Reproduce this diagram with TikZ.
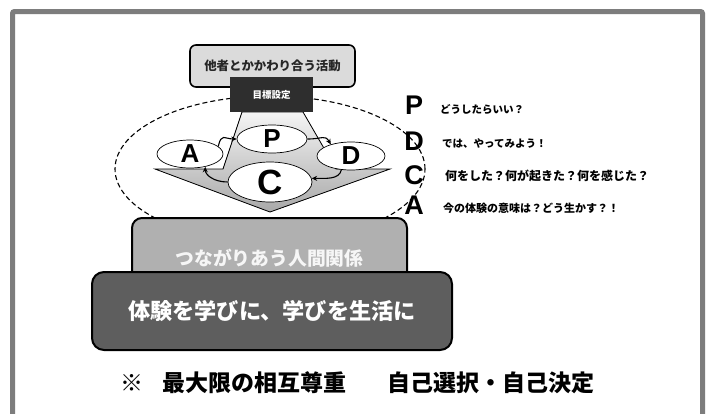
\documentclass[tikz,border=0pt]{standalone}
\usepackage{fontspec}
\newfontfamily\jp{Noto Sans CJK JP}
\newfontfamily\lat{Liberation Sans}
\usetikzlibrary{shapes.geometric,arrows.meta}
\newcommand\fsz[1]{\fontsize{#1}{#1}\selectfont}
\begin{document}
\begin{tikzpicture}[x=1pt,y=-1pt,
  framel/.style={draw=gray!98!black, line width=5pt, rounded corners=2pt},
  pel/.style={ellipse, draw, fill=white, line width=0.7pt, inner sep=0pt},
  pletter/.style={font=\lat\bfseries\fsz{26}},
  cyc/.style={-{Stealth[length=5.5pt,width=5pt]}, line width=1.1pt},
  pdca/.style={font=\lat\bfseries\fsz{27}, inner sep=0pt},
  pdtext/.style={anchor=west, inner sep=0pt, font=\jp\bfseries},
  rbox/.style={draw=black, line width=2pt, rounded corners=10pt, inner sep=0pt},
  btext/.style={font=\jp\bfseries\fsz{23}, inner sep=0pt}
]
\useasboundingbox (0,0) rectangle (712,413);
\fill[white] (0,0) rectangle (712,413);
\draw[framel] (12.5,416) -- (12.5,11.5) -- (702.5,11.5) -- (702.5,416);

% dashed cycle ellipse
\node[ellipse, draw, dashed, dash pattern=on 5pt off 3pt, line width=1.1pt,
      minimum width=310pt, minimum height=146pt, inner sep=0pt] (ring) at (270,169) {};

% funnel + triangle
\filldraw[draw=black, line width=0.8pt, top color=gray!8, bottom color=gray!68]
  (155,169) -- (223,169) -- (242,112) -- (303,112) -- (336,169) -- (390,169) -- (270,212) -- cycle;

% top boxes
\node[draw=black, line width=1.6pt, fill=gray!28, rounded corners=6pt,
      minimum width=165pt, minimum height=42pt, inner sep=0pt,
      font=\jp\bfseries\fsz{12.4}, text=black!85] (act) at (272.5,66) {他者とかかわり合う活動};
\node[fill=black!82, minimum width=83pt, minimum height=35pt, inner sep=0pt,
      font=\jp\bfseries\fsz{9.5}, text=white] (goal) at (271.5,94.5) {\raisebox{-2.5pt}{目標設定}};

% cycle ellipses
\node[pel, minimum width=70pt, minimum height=28pt] (P) at (272,139) {};
\node[pel, minimum width=66pt, minimum height=28pt] (A) at (190,154) {};
\node[pel, minimum width=68pt, minimum height=28pt] (D) at (351,156) {};
\node[pel, minimum width=84pt, minimum height=40pt] (C) at (270,182) {};
\node[pletter] (Pl) at (P) {P};
\node[pletter] (Al) at (A) {A};
\node[pletter] (Dl) at (D) {D};
\node[font=\lat\bfseries\fsz{35}] (Cl) at (C) {C};

% cycle arrows
\draw[cyc] (A.15) .. controls +(3,-14) and +(-12,0) .. (P.west);
\draw[cyc] (P.east) .. controls +(16,0) and +(-6,-10) .. (D.150);
\draw[cyc] (D.235) .. controls +(-2,10) and +(14,0) .. (C.5);
\draw[cyc] (C.west) .. controls +(-14,0) and +(0,8) .. (A.-40);

% PDCA column
\node[pdca] (pp) at (414,105) {P};
\node[pdca] (pd) at (414,141) {D};
\node[pdca] (pc) at (414,175) {C};
\node[pdca] (pa) at (414,205) {A};
\node[pdtext, font=\jp\bfseries\fsz{10.5}] (tp) at (440,110) {どうしたらいい？};
\node[pdtext, font=\jp\bfseries\fsz{10.5}] (td) at (442,143) {では、やってみよう！};
\node[pdtext, font=\jp\bfseries\fsz{12}] (tc) at (445,176) {何をした？何が起きた？何を感じた？};
\node[pdtext, font=\jp\bfseries\fsz{11}] (ta) at (443,208) {今の体験の意味は？どう生かす？！};

% base boxes
\node[rbox, fill=gray!62, minimum width=275pt, minimum height=80pt,
      font=\jp\bfseries\fsz{18.8}, text=white!93!gray] (rel) at (269.5,258) {つながりあう人間関係};
\node[rbox, fill=black!63, minimum width=360pt, minimum height=78pt, rounded corners=12pt,
      font=\jp\bfseries\fsz{22.2}, text=white] (learn) at (272,311) {体験を学びに、学びを生活に};

% bottom line
\node[btext] (mark) at (132,383) {※};
\node[btext, anchor=west] (resp) at (162,383) {最大限の相互尊重};
\node[btext, anchor=west] (self) at (387,383) {自己選択・自己決定};
\end{tikzpicture}
\end{document}
